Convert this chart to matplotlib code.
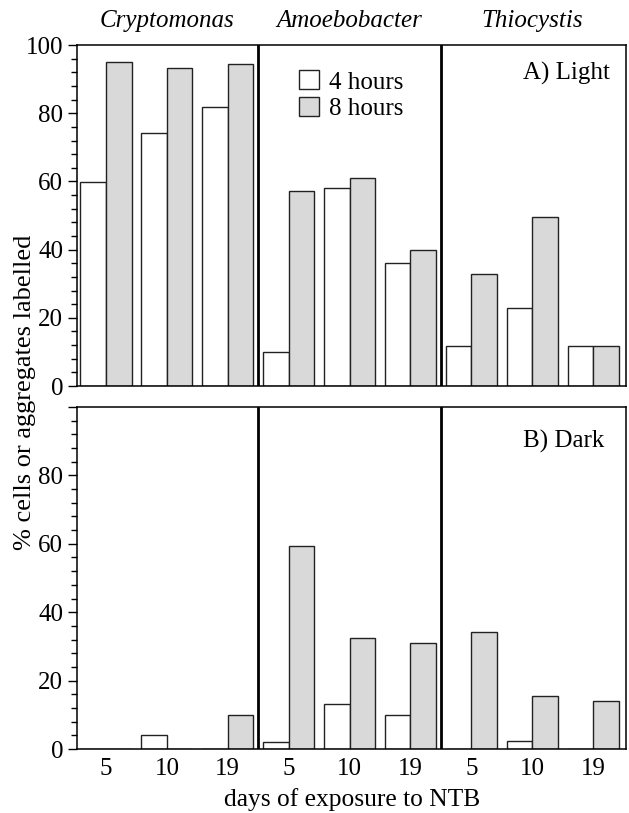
import matplotlib
matplotlib.use('Agg')
import matplotlib.pyplot as plt
from matplotlib.patches import Patch
from matplotlib.ticker import MultipleLocator
import numpy as np

plt.rcParams.update({
    'font.family': 'Liberation Serif',
    'font.size': 18,
    'axes.linewidth': 1.1,
})

# data
organisms = ['Cryptomonas', 'Amoebobacter', 'Thiocystis']
days = ['5', '10', '19']
light_4h = [59.7, 74.3, 81.8, 10.1, 58.0, 36.0, 11.8, 22.8, 11.8]
light_8h = [95.1, 93.4, 94.4, 57.3, 61.1, 39.8, 32.9, 49.6, 11.8]
dark_4h = [0, 4.1, 0, 2.0, 13.3, 10.0, 0, 2.4, 0]
dark_8h = [0, 0, 10.0, 59.4, 32.4, 31.1, 34.2, 15.4, 14.1]

GREY = '#d9d9d9'
EDGE = '#222222'
W = 0.42

fig = plt.figure(figsize=(6.29, 8.13), dpi=100)
ax_top = fig.add_axes([0.1224, 0.5252, 0.8728, 0.4194])
ax_bot = fig.add_axes([0.1224, 0.0787, 0.8728, 0.4207])

x = np.arange(len(organisms) * len(days))
xlabels = days * len(organisms)

for ax, v4, v8 in [(ax_top, light_4h, light_8h), (ax_bot, dark_4h, dark_8h)]:
    ax.bar(x - W / 2, v4, W, color='white', edgecolor=EDGE, linewidth=1.0)
    ax.bar(x + W / 2, v8, W, color=GREY, edgecolor=EDGE, linewidth=1.0)
    for b in (2.5, 5.5):
        ax.axvline(b, color='black', linewidth=2.0)
    ax.set_xlim(-0.476, 8.54)
    ax.set_ylim(0, 100)
    ax.yaxis.set_major_locator(MultipleLocator(20))
    ax.yaxis.set_minor_locator(MultipleLocator(4))
    ax.tick_params(axis='y', which='major', direction='out', length=6.5, width=1.0, pad=3.5)
    ax.tick_params(axis='y', which='minor', direction='out', length=4.3, width=1.0)
    ax.tick_params(axis='x', length=0, pad=6.5)
    ax.set_xticks(x)

ax_top.set_xticklabels([])
ax_bot.set_xticklabels(xlabels)
ax_bot.set_yticks([0, 20, 40, 60, 80, 100])
ax_bot.set_yticklabels(['0', '20', '40', '60', '80', ''])

for i, name in enumerate(organisms):
    ax_top.text(3 * i + 1, 107, name, ha='center', va='center', style='italic', clip_on=False)

ax_top.text(0.971, 0.918, 'A) Light', transform=ax_top.transAxes, ha='right', va='center')
ax_bot.text(0.96, 0.898, 'B) Dark', transform=ax_bot.transAxes, ha='right', va='center')

handles = [Patch(facecolor='white', edgecolor=EDGE, linewidth=1.0, label='4 hours'),
           Patch(facecolor=GREY, edgecolor=EDGE, linewidth=1.0, label='8 hours')]
ax_top.legend(handles=handles, loc='upper left', bbox_to_anchor=(0.404, 0.926),
              frameon=False, borderpad=0, borderaxespad=0, handlelength=0.8,
              handleheight=0.8, handletextpad=0.4, labelspacing=0.12)

fig.text(25 / 629, 0.517, '% cells or aggregates labelled', rotation=90,
         ha='center', va='center', fontsize=19)
fig.text(0.56, 1 - 800 / 813, 'days of exposure to NTB', ha='center', va='center',
         fontsize=18.4)

fig.savefig('out.png', dpi=100)
